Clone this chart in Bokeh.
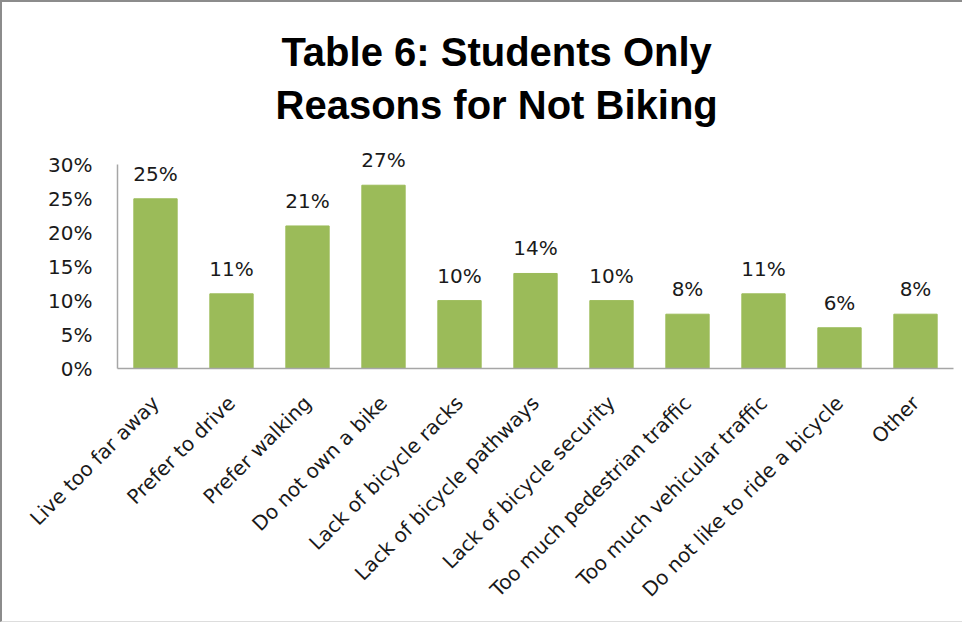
import math
from bokeh.plotting import figure
from bokeh.models import (ColumnDataSource, FactorRange, Range1d, FixedTicker,
                          NumeralTickFormatter, LabelSet)
from bokeh.core.properties import value
from bokeh.embed import file_html
from bokeh.resources import INLINE

# ---- data ----
categories = [
    "Live too far away",
    "Prefer to drive",
    "Prefer walking",
    "Do not own a bike",
    "Lack of bicycle racks",
    "Lack of bicycle pathways",
    "Lack of bicycle security",
    "Too much pedestrian traffic",
    "Too much vehicular traffic",
    "Do not like to ride a bicycle",
    "Other",
]
shares = [0.25, 0.11, 0.21, 0.27, 0.10, 0.14, 0.10, 0.08, 0.11, 0.06, 0.08]
share_labels = ["25%", "11%", "21%", "27%", "10%", "14%", "10%", "8%", "11%", "6%", "8%"]
y_ticks = [0.0, 0.05, 0.10, 0.15, 0.20, 0.25, 0.30]
title_lines = ["Table 6: Students Only", "Reasons for Not Biking"]

BAR_COLOR = "#9BBB59"
TEXT_COLOR = "#1a1a1a"
AXIS_COLOR = "#a6a6a6"
LABEL_FONT = "DejaVu Sans"
LABEL_SIZE = "20px"
TITLE_FONT = "Liberation Sans"

src = ColumnDataSource(dict(cat=categories, share=shares, label=share_labels))

p = figure(
    x_range=FactorRange(*categories, range_padding=0),
    y_range=Range1d(0, 0.33),
    width=962, height=622,
    output_backend="svg", toolbar_location=None,
    min_border_left=115, min_border_right=11,
    min_border_top=142, min_border_bottom=256,
    background_fill_color="white", border_fill_color="white",
)
p.styles = {"border-top": "2px solid #8c8c8c", "border-left": "2px solid #8c8c8c",
            "border-bottom": "1px solid #dddddd"}

p.vbar(x="cat", top="share", width=0.57, source=src,
       fill_color=BAR_COLOR, line_color=BAR_COLOR)

labels = LabelSet(x="cat", y="share", text="label", source=src,
                  text_align="center", text_baseline="alphabetic",
                  y_offset=18, text_font=value(LABEL_FONT),
                  text_font_size=value(LABEL_SIZE), text_color=TEXT_COLOR)
p.add_layout(labels)

# two-line title, block placed over the chart like the reference
p.title.text = "\n".join(title_lines)
p.title.align = "left"
p.title.text_align = "center"
p.title.offset = 158
p.title.standoff = 35
p.title.text_font = TITLE_FONT
p.title.text_font_style = "bold"
p.title.text_font_size = "40px"
p.title.text_line_height = 1.2
p.title.text_color = "black"

# axes
p.xgrid.visible = False
p.ygrid.visible = False
p.outline_line_color = None

for ax in (p.xaxis, p.yaxis):
    ax.axis_line_color = AXIS_COLOR
    ax.axis_line_width = 1.5
    ax.major_tick_line_color = None
    ax.minor_tick_line_color = None
    ax.major_tick_out = 0
    ax.major_tick_in = 0
    ax.major_label_text_font = LABEL_FONT
    ax.major_label_text_font_size = LABEL_SIZE
    ax.major_label_text_color = TEXT_COLOR

p.xaxis.major_label_orientation = math.pi / 4
p.xaxis.major_label_standoff = 31
p.yaxis.ticker = FixedTicker(ticks=y_ticks)
p.yaxis.formatter = NumeralTickFormatter(format="0%")
p.yaxis.major_label_standoff = 25
p.yaxis.bounds = (0, 0.30)

open("out.html", "w").write(file_html(p, INLINE))
